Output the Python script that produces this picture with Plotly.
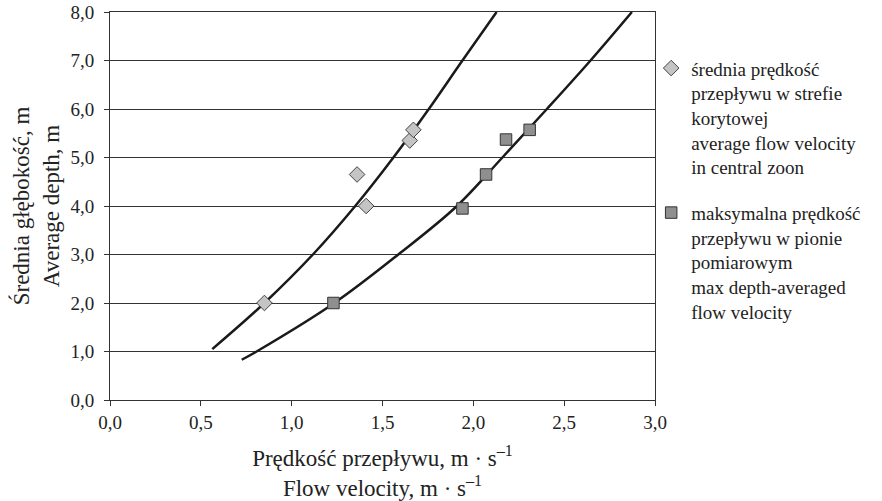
import plotly.graph_objects as go

# measured points (velocity m/s, depth m)
avg_velocity = [0.85, 1.36, 1.41, 1.65, 1.67]
avg_depth = [2.0, 4.65, 4.0, 5.35, 5.57]

max_velocity = [1.23, 1.94, 2.07, 2.18, 2.31]
max_depth = [2.0, 3.95, 4.65, 5.37, 5.57]

# trend curves
avg_trend_x = [0.563, 0.85, 1.117, 1.35, 1.56, 1.755, 1.94, 2.128]
avg_trend_y = [1.05, 2.0, 3.0, 4.0, 5.0, 6.0, 7.0, 8.0]

max_trend_x = [0.725, 0.807, 1.235, 1.587, 1.91, 2.16, 2.405, 2.645, 2.873]
max_trend_y = [0.83, 1.0, 2.0, 3.0, 4.0, 5.0, 6.0, 7.0, 8.0]

avg_name = "średnia prędkość<br>przepływu w strefie<br>korytowej<br>average flow velocity<br>in central zoon"
max_name = "maksymalna prędkość<br>przepływu w pionie<br>pomiarowym<br>max depth-averaged<br>flow velocity"

FONT = "Liberation Serif"
INK = "#222222"

fig = go.Figure()

fig.add_trace(go.Scatter(
    x=avg_trend_x, y=avg_trend_y, mode="lines", line_shape="spline",
    line=dict(color="#1a1a1a", width=2.5), showlegend=False, hoverinfo="skip"))
fig.add_trace(go.Scatter(
    x=max_trend_x, y=max_trend_y, mode="lines", line_shape="spline",
    line=dict(color="#1a1a1a", width=2.5), showlegend=False, hoverinfo="skip"))

fig.add_trace(go.Scatter(
    x=avg_velocity, y=avg_depth, mode="markers", name=avg_name, legendgroup="a",
    marker=dict(symbol="diamond", size=12, color="#c4c4c4",
                line=dict(color="#444444", width=1))))
fig.add_trace(go.Scatter(
    x=max_velocity, y=max_depth, mode="markers", name=max_name, legendgroup="b",
    marker=dict(symbol="square", size=11.5, color="#8f8f8f",
                line=dict(color="#333333", width=1))))

fig.update_layout(
    width=882, height=501,
    margin=dict(l=110, r=227, t=12, b=101),
    paper_bgcolor="white", plot_bgcolor="white",
    separators=", ",
    font=dict(family=FONT, size=19, color=INK),
    legend=dict(x=0.993, y=0.904, xanchor="left", yanchor="top", valign="top",
                tracegroupgap=18, bgcolor="rgba(0,0,0,0)",
                font=dict(family=FONT, size=19, color=INK), itemwidth=30),
    showlegend=True,
)

fig.update_xaxes(
    range=[0, 3], dtick=0.5, tickformat=".1f", automargin=False,
    showline=True, linecolor="#333333", linewidth=1, mirror=True,
    ticks="outside", ticklen=5, tickcolor="#333333", ticklabelstandoff=0,
    showgrid=False, zeroline=False,
    title=dict(text="Prędkość przepływu, m · s<sup>–1</sup><br>Flow velocity, m · s<sup>–1</sup>",
               standoff=22),
)
fig.update_yaxes(
    range=[0, 8], dtick=1, tickformat=".1f", automargin=False,
    showline=True, linecolor="#333333", linewidth=1, mirror=True,
    ticks="outside", ticklen=5, tickcolor="#333333", ticklabelstandoff=6,
    showgrid=True, gridcolor="#333333", gridwidth=1, zeroline=False,
    title=dict(text="Średnia głębokość, m<br>Average depth, m", standoff=4),
)

# drop the default 8px page margin so the 882x501 figure fills the window
fig.write_html("out.html", config={"displayModeBar": False},
               post_script="document.body.style.margin = '0';")
